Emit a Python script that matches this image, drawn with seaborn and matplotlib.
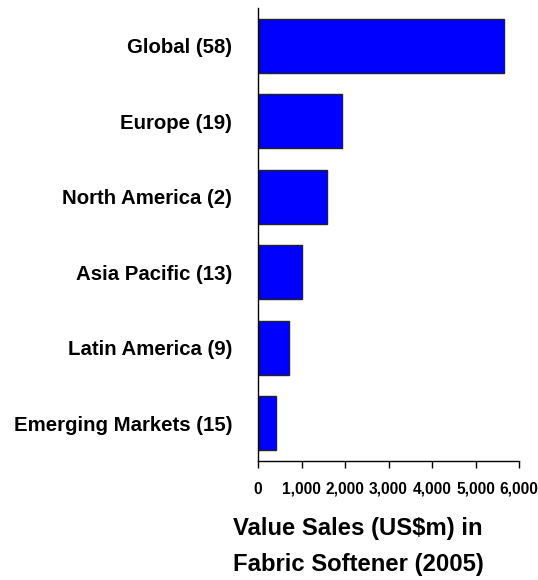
import matplotlib
matplotlib.use("Agg")
import matplotlib.pyplot as plt
import pandas as pd
import seaborn as sns
from matplotlib.ticker import FuncFormatter

regions = ["Global (58)", "Europe (19)", "North America (2)", "Asia Pacific (13)",
           "Latin America (9)", "Emerging Markets (15)"]
sales = [5660, 1940, 1590, 1000, 720, 410]
x_ticks = [0, 1000, 2000, 3000, 4000, 5000, 6000]

df = pd.DataFrame({"region": regions, "sales": sales})

sns.set_style("white")
plt.rcParams["font.family"] = ["Liberation Sans", "DejaVu Sans"]
plt.rcParams["text.color"] = "black"

fig = plt.figure(figsize=(5.38, 5.80), dpi=100)
ax = fig.add_axes([258 / 538, 1 - 461 / 580, (519 - 258) / 538, (461 - 8) / 580])

sns.barplot(data=df, x="sales", y="region", orient="h", color="#0000FF",
            saturation=1, width=0.72, edgecolor="#222222", linewidth=1, ax=ax)

ax.set_xlim(0, 6000)
ax.set_ylim(5.5, -0.5)
ax.set_xticks(x_ticks)
ax.xaxis.set_major_formatter(FuncFormatter(lambda v, p: f"{int(v):,}"))
ax.tick_params(axis="x", direction="out", length=5, width=1, color="black",
               pad=10, labelsize=11.2, bottom=True, labelcolor="black")
ax.tick_params(axis="y", length=0, pad=18.5, labelsize=14.7, labelcolor="black")
for lab in ax.get_xticklabels() + ax.get_yticklabels():
    lab.set_fontweight("bold")

for side in ["top", "right"]:
    ax.spines[side].set_visible(False)
for side in ["left", "bottom"]:
    ax.spines[side].set_color("black")
    ax.spines[side].set_linewidth(1)

ax.set_xlabel("")
ax.set_ylabel("")

fig.text(233 / 538, 1 - 528 / 580, "Value Sales (US$m) in", ha="left", va="center",
         fontsize=17.2, fontweight="bold", color="black")
fig.text(233 / 538, 1 - 565 / 580, "Fabric Softener (2005)", ha="left", va="center",
         fontsize=17.2, fontweight="bold", color="black")

fig.savefig("out.png", dpi=100)
